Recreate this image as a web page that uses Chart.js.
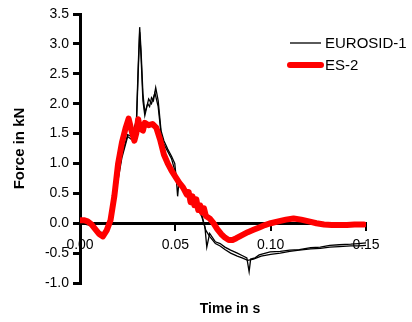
<!DOCTYPE html>
<html>
<head>
<meta charset="utf-8">
<script src="https://cdn.jsdelivr.net/npm/chart.js@4.4.0/dist/chart.umd.min.js"></script>
<style>
  body { margin: 0; background: #fff; }
</style>
</head>
<body>
<canvas id="forceChart" width="412" height="322"></canvas>
<script>
// EUROSID-1, first trace (time in s, force in kN)
const timeEuroA = [0, 0.005, 0.010, 0.013, 0.016, 0.019, 0.022, 0.025, 0.027, 0.0296, 0.0305, 0.0313, 0.032, 0.033, 0.034, 0.0355, 0.0365, 0.0375, 0.0385, 0.0397, 0.041, 0.0425, 0.044, 0.046, 0.048, 0.0497, 0.0505, 0.0512, 0.052, 0.054, 0.056, 0.058, 0.060, 0.062, 0.064, 0.0655, 0.0665, 0.068, 0.071, 0.0735, 0.076, 0.079, 0.0825, 0.085, 0.0875, 0.0887, 0.0895, 0.0918, 0.094, 0.0997, 0.105, 0.110, 0.115, 0.121, 0.126, 0.131, 0.136, 0.142, 0.146, 0.150];
const forceEuroA = [0.00, -0.02, -0.14, -0.17, 0.00, 0.60, 1.15, 1.48, 1.45, 1.72, 2.60, 3.28, 2.90, 2.17, 1.85, 2.00, 1.95, 2.10, 2.05, 2.27, 2.05, 1.55, 1.38, 1.24, 1.12, 1.00, 0.75, 0.45, 0.72, 0.62, 0.52, 0.42, 0.34, 0.27, 0.12, -0.06, -0.40, -0.17, -0.31, -0.34, -0.40, -0.45, -0.50, -0.54, -0.58, -0.81, -0.60, -0.58, -0.53, -0.48, -0.47, -0.45, -0.44, -0.41, -0.40, -0.37, -0.36, -0.35, -0.34, -0.33];

// EUROSID-1, second trace
const timeEuroB = [0, 0.005, 0.010, 0.013, 0.016, 0.019, 0.022, 0.025, 0.027, 0.0296, 0.0305, 0.0313, 0.032, 0.033, 0.034, 0.036, 0.0375, 0.0393, 0.041, 0.0425, 0.044, 0.046, 0.048, 0.050, 0.052, 0.054, 0.056, 0.058, 0.060, 0.062, 0.064, 0.066, 0.068, 0.071, 0.0735, 0.076, 0.079, 0.0825, 0.085, 0.088, 0.091, 0.095, 0.100, 0.105, 0.110, 0.115, 0.121, 0.126, 0.131, 0.136, 0.142, 0.146, 0.150];
const forceEuroB = [0.00, -0.03, -0.16, -0.19, -0.02, 0.55, 1.10, 1.45, 1.40, 1.65, 2.50, 3.20, 2.80, 2.05, 1.80, 2.08, 2.00, 2.18, 1.95, 1.50, 1.32, 1.20, 1.08, 0.85, 0.68, 0.60, 0.50, 0.40, 0.32, 0.24, 0.10, -0.12, -0.22, -0.34, -0.38, -0.44, -0.50, -0.55, -0.58, -0.62, -0.60, -0.55, -0.52, -0.50, -0.47, -0.45, -0.43, -0.42, -0.40, -0.39, -0.38, -0.38, -0.37];

// ES-2
const timeES2 = [0, 0.002, 0.004, 0.006, 0.008, 0.010, 0.012, 0.014, 0.016, 0.018, 0.020, 0.022, 0.024, 0.0255, 0.027, 0.0285, 0.0295, 0.0305, 0.0315, 0.033, 0.034, 0.036, 0.038, 0.040, 0.042, 0.044, 0.046, 0.048, 0.050, 0.052, 0.054, 0.056, 0.057, 0.058, 0.059, 0.060, 0.061, 0.062, 0.063, 0.064, 0.065, 0.066, 0.068, 0.070, 0.072, 0.074, 0.076, 0.078, 0.080, 0.082, 0.085, 0.088, 0.091, 0.094, 0.097, 0.100, 0.104, 0.108, 0.112, 0.116, 0.120, 0.124, 0.128, 0.132, 0.136, 0.140, 0.144, 0.149];
const forceES2 = [0.05, 0.05, 0.03, -0.02, -0.10, -0.18, -0.22, -0.12, 0.05, 0.45, 1.00, 1.35, 1.60, 1.75, 1.55, 1.38, 1.50, 1.74, 1.58, 1.55, 1.68, 1.64, 1.66, 1.60, 1.40, 1.15, 1.00, 0.88, 0.78, 0.68, 0.60, 0.48, 0.52, 0.35, 0.45, 0.30, 0.40, 0.22, 0.30, 0.18, 0.25, 0.12, 0.08, 0.00, -0.10, -0.18, -0.24, -0.28, -0.28, -0.25, -0.20, -0.15, -0.11, -0.07, -0.03, 0.00, 0.03, 0.06, 0.08, 0.06, 0.03, 0.00, -0.02, -0.03, -0.03, -0.03, -0.02, -0.02];

const seriesLabels = ['EUROSID-1', 'ES-2'];
const yTicksMin = -1.0, yTicksMax = 3.5, yStep = 0.5;
const xTicksMin = 0, xTicksMax = 0.15, xStep = 0.05;

const toPoints = (xs, ys) => xs.map((x, i) => ({ x: x, y: ys[i] }));

Chart.defaults.font.family = 'Arial, "Liberation Sans", sans-serif';
Chart.defaults.color = '#000';

// legend and x title, drawn like the original (legend floats in top right)
const sideLegend = {
  id: 'sideLegend',
  afterDraw(chart) {
    const ctx = chart.ctx;
    const rows = [
      { ds: chart.data.datasets[0], y: 43 },
      { ds: chart.data.datasets[2], y: 65 },
    ];
    ctx.save();
    ctx.font = '15px Arial, "Liberation Sans", sans-serif';
    ctx.textBaseline = 'middle';
    ctx.textAlign = 'left';
    ctx.fillStyle = '#000';
    rows.forEach((r) => {
      ctx.strokeStyle = r.ds.borderColor;
      ctx.lineWidth = r.ds.borderWidth;
      ctx.lineCap = r.ds.borderWidth > 2 ? 'round' : 'butt';
      ctx.beginPath();
      ctx.moveTo(290, r.y);
      ctx.lineTo(321, r.y);
      ctx.stroke();
      ctx.fillText(r.ds.label, 325, r.y + 1);
    });
    ctx.font = 'bold 14px Arial, "Liberation Sans", sans-serif';
    ctx.textAlign = 'center';
    ctx.fillText('Time in s', 230, 309);
    ctx.restore();
  },
};

const forceChart = new Chart(document.getElementById('forceChart'), {
  type: 'line',
  data: {
    datasets: [
      {
        label: seriesLabels[0],
        data: toPoints(timeEuroA, forceEuroA),
        borderColor: '#000',
        borderWidth: 1.3,
        order: 1,
      },
      {
        label: seriesLabels[0],
        data: toPoints(timeEuroB, forceEuroB),
        borderColor: '#000',
        borderWidth: 1.3,
        order: 1,
      },
      {
        label: seriesLabels[1],
        data: toPoints(timeES2, forceES2),
        borderColor: '#ff0000',
        borderWidth: 6,
        borderCapStyle: 'round',
        borderJoinStyle: 'round',
        order: 0,
      },
    ],
  },
  options: {
    responsive: false,
    animation: false,
    events: [],
    layout: { padding: { top: 14, right: 46, bottom: 39, left: 0 } },
    elements: { point: { radius: 0 }, line: { tension: 0, fill: false } },
    plugins: { legend: { display: false }, tooltip: { enabled: false } },
    scales: {
      x: {
        type: 'linear',
        position: { y: 0 },
        min: xTicksMin,
        max: xTicksMax,
        ticks: {
          stepSize: xStep,
          padding: 8,
          font: { size: 14 },
          maxRotation: 0,
          callback: (v) => Number(v).toFixed(2),
        },
        grid: { drawOnChartArea: false, drawTicks: true, tickLength: 6, color: '#000', lineWidth: 2 },
        border: { display: true, color: '#000', width: 3 },
      },
      y: {
        min: yTicksMin,
        max: yTicksMax,
        afterFit: (scale) => { scale.width = 80; },
        ticks: {
          stepSize: yStep,
          padding: 4,
          font: { size: 14 },
          callback: (v) => Number(v).toFixed(1),
        },
        grid: { drawOnChartArea: false, drawTicks: true, tickLength: 7, color: '#000', lineWidth: 3 },
        border: { display: true, color: '#000', width: 3 },
        title: {
          display: true,
          text: 'Force in kN',
          font: { size: 15, weight: 'bold' },
          padding: { top: 11, bottom: 0 },
        },
      },
    },
  },
  plugins: [sideLegend],
});
</script>
</body>
</html>
